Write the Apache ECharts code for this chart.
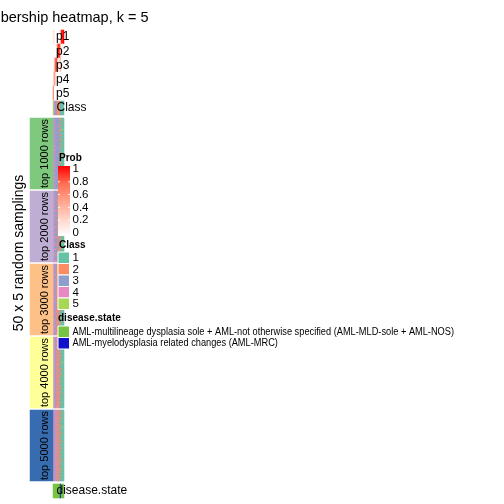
<!DOCTYPE html>
<html><head><meta charset="utf-8">
<script src="https://cdn.jsdelivr.net/npm/echarts@6/dist/echarts.min.js"></script>
<style>html,body{margin:0;padding:0;background:#fff}#c{width:504px;height:504px}</style>
</head><body><div id="c"></div>
<script>
// ---------------- data ----------------
const titleText = 'Membership heatmap, k = 5';
const yTitle = '50 x 5 random samplings';
const probRowNames = ['p1', 'p2', 'p3', 'p4', 'p5'];
const p1 = [0.15, 0.1, 0, 0, 0, 0, 0, 0.1, 0.95, 0.9, 1];
const p2 = [0, 0, 0, 0.05, 0.6, 0.9, 0.95, 0.45, 0.05, 0.1, 0];
const p3 = [0, 0.3, 0.7, 0.9, 0.35, 0.1, 0.05, 0.45, 0, 0, 0];
const p4 = [0.1, 0.6, 0.3, 0.05, 0.05, 0, 0, 0, 0, 0, 0];
const p5 = [0.75, 0, 0, 0, 0, 0, 0, 0, 0, 0, 0];
const classRow = [5, 4, 3, 3, 2, 2, 2, 3, 1, 1, 1];
const diseaseRow = [1, 1, 1, 1, 1, 1, 1, 2, 1, 1, 1];
const groupLabels = ['top 1000 rows', 'top 2000 rows', 'top 3000 rows', 'top 4000 rows', 'top 5000 rows'];
const top1000 = ["43333332111","34333322111","44333333121","34433332111","43333233111","33433332211","44333323111","43433332111","34333332151","44333322111",
"43343333111","33433323111","44333332211","34333333111","43433332111","44333323121","34343332111","43333333111","33433322111","44333333211",
"53433332111","43343323111","34433332111","44333333111","43433322111","34333332111","44343333121","43333323111","33433332211","44333332111",
"34433333111","43333322111","44343332111","34333323111","43433333111","44333332151","33433322111","43343333111","44333332111","34433323211",
"43333332111","44333333111","34343322111","43433332111","44333323111","33433333121","43343332111","44333322111","34433332111","43333333111"];
const top2000 = ["43332232111","34333322111","44332332111","43433222111","34332323111","44333232211","43432322111","34332232111","44333322121","43332332111",
"34433222111","44332323111","43333232111","34432322211","44332232111","43333322111","34332332111","44433222111","43332323151","34333232111",
"44332322111","43432232111","34333322111","44332332121","43333222111","34432323111","44332232111","43333322211","34332332111","44433222111",
"43332323111","34333232111","44332322111","43432232111","34333322111","44332332111","43333222121","34432323111","44332232111","43333322111",
"34332332211","44433222111","43332323111","34333232111","44332322111","53432232111","34333322111","44332332111","43333222111","34432323111"];
const top3000 = ["43332233111","34332223111","44332232111","43432233211","34332223111","44322233111","43332232111","34432223111","44332233121","43322232111",
"34332233111","44432223111","43332232211","34322233111","44332223111","43432232111","34332233111","44322223151","43332232111","34432233111",
"44332223111","43322232111","34332233211","44432223111","43332232111","34322233111","44332223121","43432232111","34332233111","44322223111",
"43332232111","34432233111","44332223211","43322232111","34332233111","44432223111","43332232111","34322233111","44332223111","53432232111",
"34332233121","44322223111","43332232111","34432233111","44332223111","43322232211","34332233111","44432223111","43332232111","34322233111"];
const top4000 = ["43432232111","34342233111","44332322111","43432223211","34342232111","44332233111","43432322111","34342223111","44332232121","43432233111",
"34342322111","44332223111","43432232111","34342233211","44332322111","43432223111","34342232111","44332233151","43432322111","34342223111",
"44332232111","43432233111","34342322111","44332223121","43432232111","34342233111","44332322211","43432223111","34342232111","44332233111",
"43432322111","34342223111","44332232111","43432233111","34342322111","44332223111","43432232211","34342233111","44332322111","43432223111",
"34342232121","44332233111","43432322111","34342223111","44332232111","53432233111","34342322111","44332223111","43432232111","34342233111"];
const top5000 = ["43342232111","34432323111","44342232121","43432322111","34342233111","44432322211","43342223111","34432332111","44342232111","43432323111",
"34342232111","44432322111","43342233151","34432322111","44342223111","43432332111","34342232211","44432323111","43342232111","34432322111",
"44342233111","43432322111","34342223121","44432332111","43342232111","34432323111","44342232111","43432322211","34342233111","44432322111",
"43342223111","34432332111","44342232111","43432323111","34342232111","44432322121","43342233111","34432322111","44342223111","43432332111",
"34342232111","44432323211","43342232111","34432322111","44342233111","53432322111","34342223111","44432332111","43342232111","34432323111"];
const classLabels = ['1', '2', '3', '4', '5'];
const probTicks = ['1', '0.8', '0.6', '0.4', '0.2', '0'];
const diseaseStates = ['AML-multilineage dysplasia sole + AML-not otherwise specified (AML-MLD-sole + AML-NOS)',
                       'AML-myelodysplasia related changes (AML-MRC)'];

// ---------------- styles ----------------
const classColors = ['#66C2A5', '#FC8D62', '#8DA0CB', '#E78AC3', '#A6D854'];
const groupColors = ['#7FC97F', '#BEAED4', '#FDC086', '#FFFF99', '#386CB0'];
const diseaseColors = ['#77C442', '#1111CC'];
const probRamp = ['#FFFFFF', '#FFD3C6', '#FFA38C', '#FF6E52', '#FF0000'];
const FONT = "'Liberation Sans', Arial, Helvetica, sans-serif";

const probRows = [p1, p2, p3, p4, p5];
const groups = [top1000, top2000, top3000, top4000, top5000];
const nCol = p1.length;
const colCats = Array.from({length: nCol}, (_, i) => 's' + (i + 1));

const grids = [], xAxes = [], yAxes = [], series = [];
function addGrid(g, xData, yData) {
  grids.push(g);
  const gi = grids.length - 1;
  xAxes.push({type: 'category', gridIndex: gi, data: xData, show: false});
  yAxes.push({type: 'category', gridIndex: gi, data: yData, inverse: true, show: false});
  return gi;
}
function hm(gi, data) {
  series.push({type: 'heatmap', xAxisIndex: gi, yAxisIndex: gi, data: data,
    itemStyle: {borderWidth: 0}, emphasis: {disabled: true}, progressive: 0, animation: false});
  return series.length - 1;
}

// prob rows
let gi = addGrid({left: 53, top: 30, width: 11, height: 70}, colCats, probRowNames);
const probData = [];
probRows.forEach((row, r) => row.forEach((v, c) => probData.push([c, r, v])));
const sProb = hm(gi, probData);

// class row
gi = addGrid({left: 53, top: 101, width: 11, height: 14}, colCats, ['Class']);
const sClass = [hm(gi, classRow.map((v, c) => [c, 0, v]))];

// groups
const gTops = [118, 191, 264, 337, 410];
const sGroupAnno = [];
groups.forEach((rows, g) => {
  const rowCats = rows.map((_, i) => 'r' + i);
  const gg = addGrid({left: 53, top: gTops[g], width: 11, height: 71}, colCats, rowCats);
  const d = [];
  rows.forEach((s, r) => { for (let c = 0; c < s.length; c++) d.push([c, r, +s[c]]); });
  sClass.push(hm(gg, d));
});
groups.forEach((rows, g) => {
  const ga = addGrid({left: 30, top: gTops[g], width: 23, height: 71}, ['a'], [groupLabels[g]]);
  sGroupAnno.push(hm(ga, [[0, 0, g]]));
});
// disease annotation
gi = addGrid({left: 53, top: 484, width: 11, height: 14}, colCats, ['disease.state']);
const sDisease = hm(gi, diseaseRow.map((v, c) => [c, 0, v]));

// ---------------- graphics (texts, legends) ----------------
const graphics = [];
function txt(x, y, s, o) {
  o = o || {};
  graphics.push({type: 'text', x: x, y: y, rotation: o.rot || 0, scaleX: o.sx || 1, silent: true, z: 100,
    style: {text: s, x: 0, y: 0, fill: '#000', font: (o.bold ? 'bold ' : '') + (o.size || 12) + 'px ' + FONT,
      textAlign: o.align || 'left', textVerticalAlign: 'middle'}});
}
txt(58.5, 18, titleText, {size: 14.5, align: 'center'});
txt(19, 253, yTitle, {size: 14, align: 'center', rot: Math.PI / 2});
probRowNames.forEach((n, i) => txt(56, 37 + i * 14.2, n, {size: 12}));
txt(56.5, 108, 'Class', {size: 12});
txt(56.5, 491, 'disease.state', {size: 12});
groupLabels.forEach((l, g) => txt(45, gTops[g] + 35.5, l, {size: 11, align: 'center', rot: Math.PI / 2}));

// Prob legend
txt(59, 158, 'Prob', {size: 10, bold: true});
graphics.push({type: 'rect', shape: {x: 58, y: 166, width: 12, height: 70}, silent: true, z: 90,
  style: {fill: new echarts.graphic.LinearGradient(0, 0, 0, 1, probRamp.slice().reverse().map((c, i, a) => ({offset: i / (a.length - 1), color: c})))}});
probTicks.forEach((t, i) => {
  const y = 169 + i * 12.8;
  txt(72.5, y, t, {size: 11.5});
  if (i > 0 && i < probTicks.length - 1) {
    graphics.push({type: 'line', silent: true, z: 95, shape: {x1: 58, y1: y, x2: 60, y2: y}, style: {stroke: '#fff', lineWidth: 1}});
    graphics.push({type: 'line', silent: true, z: 95, shape: {x1: 68, y1: y, x2: 70, y2: y}, style: {stroke: '#fff', lineWidth: 1}});
  }
});
// Class legend
txt(59, 245, 'Class', {size: 10, bold: true});
classLabels.forEach((l, i) => {
  const y = 252 + i * 11.5;
  graphics.push({type: 'rect', silent: true, z: 90, shape: {x: 58, y: y, width: 11.5, height: 11.5},
    style: {fill: classColors[i], stroke: '#fff', lineWidth: 1}});
  txt(72.5, y + 6, l, {size: 11.5});
});
// disease legend
txt(58, 318, 'disease.state', {size: 10, bold: true});
diseaseStates.forEach((l, i) => {
  const y = 326 + i * 11.5;
  graphics.push({type: 'rect', silent: true, z: 90, shape: {x: 58, y: y, width: 11.5, height: 11.5},
    style: {fill: diseaseColors[i], stroke: '#fff', lineWidth: 1}});
  txt(72.5, y + 6, l, {size: 10.5, sx: 0.88});
});

const chart = echarts.init(document.getElementById('c'), null, {renderer: 'canvas'});
chart.setOption({
  animation: false,
  backgroundColor: '#fff',
  grid: grids, xAxis: xAxes, yAxis: yAxes,
  visualMap: [
    {type: 'continuous', show: false, seriesIndex: sProb, min: 0, max: 1, inRange: {color: probRamp}},
    {type: 'piecewise', show: false, seriesIndex: sClass, pieces: classColors.map((c, i) => ({value: i + 1, color: c}))},
    {type: 'piecewise', show: false, seriesIndex: sGroupAnno, pieces: groupColors.map((c, i) => ({value: i, color: c}))},
    {type: 'piecewise', show: false, seriesIndex: sDisease, pieces: diseaseColors.map((c, i) => ({value: i + 1, color: c}))}
  ],
  series: series,
  graphic: graphics
});
</script></body></html>
